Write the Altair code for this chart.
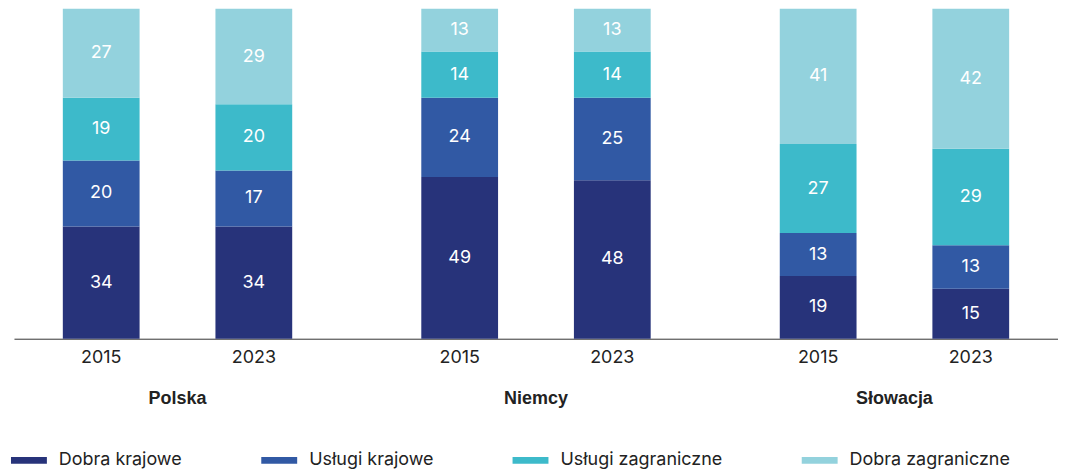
import altair as alt
import pandas as pd

countries = ["Polska", "Niemcy", "Słowacja"]
years = ["2015", "2023"]
categories = ["Dobra krajowe", "Usługi krajowe", "Usługi zagraniczne", "Dobra zagraniczne"]
colors = ["#27337A", "#3159A4", "#3DBACA", "#93D2DD"]

# order of bars: Polska 2015, Polska 2023, Niemcy 2015, Niemcy 2023, Słowacja 2015, Słowacja 2023
dobra_krajowe = [34, 34, 49, 48, 19, 15]
uslugi_krajowe = [20, 17, 24, 25, 13, 13]
uslugi_zagraniczne = [19, 20, 14, 14, 27, 29]
dobra_zagraniczne = [27, 29, 13, 13, 41, 42]

series = [dobra_krajowe, uslugi_krajowe, uslugi_zagraniczne, dobra_zagraniczne]
bar_keys = [(c, y) for c in countries for y in years]

rows = []
for ci, (cat, vals) in enumerate(zip(categories, series)):
    for (c, y), v in zip(bar_keys, vals):
        rows.append({"country": c, "year": y, "category": cat, "order": ci, "value": v})
df = pd.DataFrame(rows)
df_years = pd.DataFrame([{"country": c, "year": y} for c, y in bar_keys])

H = 331
W = 1047
FONT = "Inter"
FS = 18

x = alt.X("country:N", sort=countries, title=None,
          scale=alt.Scale(paddingInner=0.0876, paddingOuter=0),
          axis=alt.Axis(ticks=False, labelPadding=51, labelFont="Liberation Sans",
                        labelFontWeight="bold", labelFontSize=18, labelColor="#222222",
                        domainColor="#333333", domainWidth=1, labelAngle=0))
xo = alt.XOffset("year:N", sort=years, scale=alt.Scale(paddingInner=0.497, paddingOuter=0.320))

base = alt.Chart(df).transform_stack(
    stack="value", groupby=["country", "year"], sort=[alt.SortField("order", order="ascending")],
    as_=["v0", "v1"], offset="normalize"
).transform_calculate(mid="(datum.v0 + datum.v1) / 2")

bars = base.mark_bar().encode(
    x=x, xOffset=xo,
    y=alt.Y("v0:Q", axis=None, scale=alt.Scale(domain=[0, 1])),
    y2="v1:Q",
    color=alt.Color("category:N", scale=alt.Scale(domain=categories, range=colors),
                    legend=alt.Legend(orient="none", legendX=-3, legendY=H + 104,
                                      direction="horizontal", title=None,
                                      symbolType="M-1,-0.19L1,-0.19L1,0.19L-1,0.19Z",
                                      symbolSize=1296, symbolStrokeWidth=0, symbolOpacity=1,
                                      labelFont=FONT, labelFontSize=FS, labelColor="#222222",
                                      labelOffset=12, labelLimit=400, columnPadding=79)),
)

labels = base.mark_text(color="white", font=FONT, fontSize=FS, baseline="middle").encode(
    x=x, xOffset=xo, y=alt.Y("mid:Q"), text=alt.Text("value:Q"))

year_labels = alt.Chart(df_years).mark_text(font=FONT, fontSize=FS, color="#222222",
                                            baseline="middle", dy=19).encode(
    x=x, xOffset=xo, y=alt.datum(0), text="year:N")

chart = alt.layer(bars, labels, year_labels).properties(
    width=W, height=H, padding={"left": 3, "right": 0, "top": 0, "bottom": 0}
).configure_view(stroke=None)

chart.save("out.html", embed_options={"renderer": "svg", "actions": False})
